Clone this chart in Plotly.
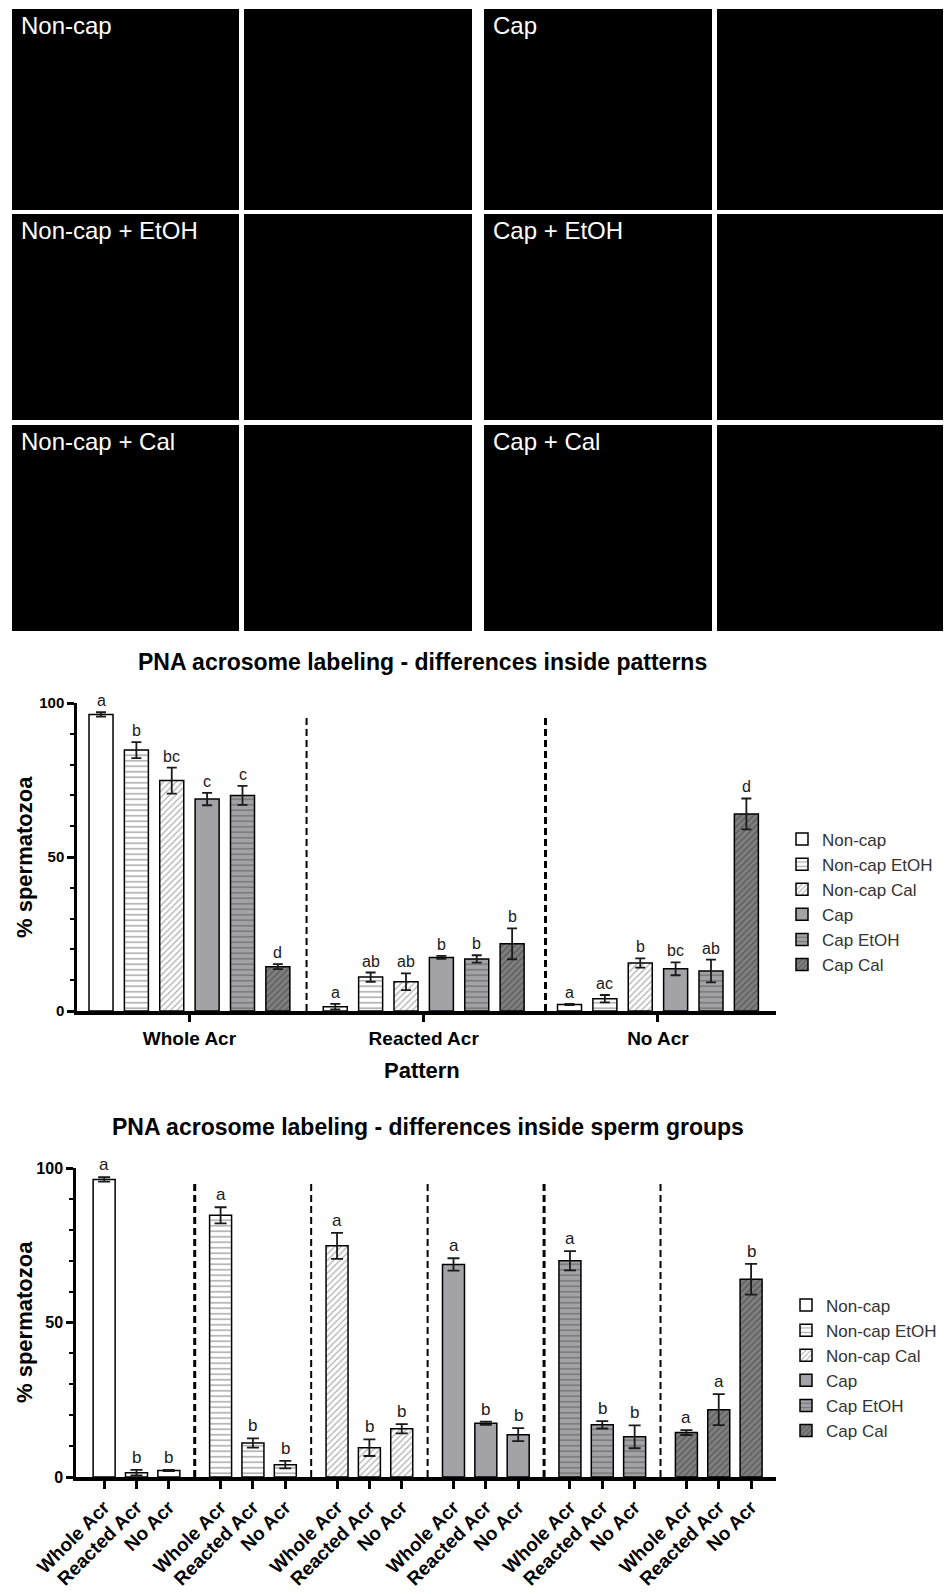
import plotly.graph_objects as go

W, H = 952, 1594

groups = ["Non-cap", "Non-cap EtOH", "Non-cap Cal", "Cap", "Cap EtOH", "Cap Cal"]
panel_labels = ["Non-cap", "Non-cap + EtOH", "Non-cap + Cal", "Cap", "Cap + EtOH", "Cap + Cal"]
patterns = ["Whole Acr", "Reacted Acr", "No Acr"]

# % spermatozoa per group, in pattern order (Whole, Reacted, No)
non_cap = [96.3, 1.4, 2.1]
non_cap_etoh = [84.7, 11.0, 4.0]
non_cap_cal = [74.8, 9.5, 15.6]
cap = [68.8, 17.4, 13.7]
cap_etoh = [70.0, 16.9, 13.0]
cap_cal = [14.4, 21.8, 64.0]

# error (SEM)
non_cap_err = [0.7, 0.9, 0.2]
non_cap_etoh_err = [2.6, 1.5, 1.2]
non_cap_cal_err = [4.2, 2.7, 1.5]
cap_err = [2.0, 0.5, 2.1]
cap_etoh_err = [3.1, 1.2, 3.7]
cap_cal_err = [0.8, 5.0, 5.0]

# significance letters, top chart (differences inside patterns)
letters_pat_non_cap = ["a", "a", "a"]
letters_pat_non_cap_etoh = ["b", "ab", "ac"]
letters_pat_non_cap_cal = ["bc", "ab", "b"]
letters_pat_cap = ["c", "b", "bc"]
letters_pat_cap_etoh = ["c", "b", "ab"]
letters_pat_cap_cal = ["d", "b", "d"]

# significance letters, bottom chart (differences inside sperm groups)
letters_grp_non_cap = ["a", "b", "b"]
letters_grp_non_cap_etoh = ["a", "b", "b"]
letters_grp_non_cap_cal = ["a", "b", "b"]
letters_grp_cap = ["a", "b", "b"]
letters_grp_cap_etoh = ["a", "b", "b"]
letters_grp_cap_cal = ["a", "a", "b"]

means = [non_cap, non_cap_etoh, non_cap_cal, cap, cap_etoh, cap_cal]
errs = [non_cap_err, non_cap_etoh_err, non_cap_cal_err, cap_err, cap_etoh_err, cap_cal_err]
let_pat = [letters_pat_non_cap, letters_pat_non_cap_etoh, letters_pat_non_cap_cal,
           letters_pat_cap, letters_pat_cap_etoh, letters_pat_cap_cal]
let_grp = [letters_grp_non_cap, letters_grp_non_cap_etoh, letters_grp_non_cap_cal,
           letters_grp_cap, letters_grp_cap_etoh, letters_grp_cap_cal]

GRAY = "#a3a3a7"
DARK = "#808080"
styles = [
    dict(color="white", pattern=dict(shape="")),
    dict(color="white", pattern=dict(shape="-", fgcolor="#555555", size=5.5, solidity=0.28)),
    dict(color="white", pattern=dict(shape="/", fgcolor="#666666", size=4.5, solidity=0.3)),
    dict(color=GRAY, pattern=dict(shape="")),
    dict(color=GRAY, pattern=dict(shape="-", fgcolor="#4a4a4a", size=5.5, solidity=0.28)),
    dict(color=DARK, pattern=dict(shape="/", fgcolor="#3e3e3e", size=4.5, solidity=0.35)),
]

# the page body has an 8px margin, so page pixels are shifted by it
OFF = 8


def px_x(p):
    return (p - OFF) / W


def px_y(p):
    return 1 - (p - OFF) / H


FONT = "Liberation Sans, Arial, sans-serif"
fig = go.Figure()
annotations = []
shapes = []

# ---- micrograph panels (black frames with labels) ----
cols = [(12, 239), (244, 472), (484, 712), (717, 943)]
rows = [(9, 210), (214, 420), (425, 631)]
for side in range(2):
    for r in range(3):
        for c in range(2):
            x0, x1 = cols[side * 2 + c]
            y0, y1 = rows[r]
            shapes.append(dict(type="rect", xref="paper", yref="paper",
                               x0=px_x(x0), x1=px_x(x1), y0=px_y(y1), y1=px_y(y0),
                               fillcolor="black", line=dict(width=0), layer="below"))
        annotations.append(dict(xref="paper", yref="paper", x=px_x(cols[side * 2][0] + 7),
                                y=px_y(rows[r][0] + 1), xanchor="left", yanchor="top",
                                text=panel_labels[side * 3 + r], showarrow=False,
                                font=dict(family=FONT, size=24, color="white")))

# ---- top chart: differences inside patterns ----
slot = 0.151
bw1 = 0.1025
for g, name in enumerate(groups):
    xs = [p + (g - 2.5) * slot for p in range(3)]
    fig.add_trace(go.Bar(
        x=xs, y=means[g], width=bw1, name=name, legend="legend",
        marker=dict(color=styles[g]["color"], pattern=styles[g]["pattern"],
                    line=dict(color="black", width=1.5)),
        error_y=dict(type="data", array=errs[g], color="#1a1a1a", thickness=1.8, width=5),
        xaxis="x", yaxis="y"))
    for p in range(3):
        annotations.append(dict(x=xs[p], y=means[g][p] + errs[g][p], xref="x", yref="y",
                                text=let_pat[g][p], showarrow=False, yanchor="bottom", yshift=1,
                                font=dict(family=FONT, size=16, color="#1a1a1a")))

for xv, lw in [(0.5, 2), (1.52, 3)]:
    shapes.append(dict(type="line", xref="x", yref="y", x0=xv, x1=xv, y0=0, y1=96,
                       line=dict(color="black", width=lw, dash="7px,4px")))

# ---- bottom chart: differences inside sperm groups ----
gstep = 3.6
bw2 = 0.68
tick2 = []
for g, name in enumerate(groups):
    xs = [g * gstep + p for p in range(3)]
    tick2 += xs
    fig.add_trace(go.Bar(
        x=xs, y=means[g], width=bw2, name=name, legend="legend2",
        marker=dict(color=styles[g]["color"], pattern=styles[g]["pattern"],
                    line=dict(color="black", width=1.5)),
        error_y=dict(type="data", array=errs[g], color="#1a1a1a", thickness=1.8, width=6),
        xaxis="x2", yaxis="y2"))
    for p in range(3):
        annotations.append(dict(x=xs[p], y=means[g][p] + errs[g][p], xref="x2", yref="y2",
                                text=let_grp[g][p], showarrow=False, yanchor="bottom", yshift=1,
                                font=dict(family=FONT, size=17, color="#1a1a1a")))

for g, lw in zip(range(5), [3, 2, 2, 3, 2]):
    xv = g * gstep + 2.8
    shapes.append(dict(type="line", xref="x2", yref="y2", x0=xv, x1=xv, y0=0, y1=96,
                       line=dict(color="black", width=lw, dash="7px,4px")))

# titles and axis labels
bold = dict(family=FONT, color="black", weight="bold")
for txt, xp, yp, size, ang in [
    ("PNA acrosome labeling - differences inside patterns", 422, 662, 23, 0),
    ("PNA acrosome labeling - differences inside sperm groups", 428, 1127, 23, 0),
    ("% spermatozoa", 24, 857, 22, -90),
    ("% spermatozoa", 24, 1322, 22, -90),
    ("Pattern", 422, 1070, 22, 0),
]:
    annotations.append(dict(xref="paper", yref="paper", x=px_x(xp), y=px_y(yp), text=txt,
                            xanchor="center", yanchor="middle", textangle=ang, showarrow=False,
                            font=dict(size=size, **bold)))

yax = dict(range=[0, 100], tickvals=[0, 50, 100], ticks="outside", ticklen=7, tickwidth=2.5,
           tickcolor="black", showline=True, linecolor="black", linewidth=2.5,
           showgrid=False, zeroline=False, automargin=False,
           minor=dict(dtick=10, tick0=0, ticks="outside", ticklen=4, tickwidth=1.5, tickcolor="black"))

fig.update_layout(
    width=W, height=H,
    margin=dict(l=0, r=0, t=0, b=0, pad=0, autoexpand=False),
    paper_bgcolor="white", plot_bgcolor="rgba(0,0,0,0)",
    barmode="overlay",
    showlegend=True,
    xaxis=dict(domain=[px_x(77), px_x(776)], anchor="y", range=[-0.48, 2.504],
               tickvals=[0, 1, 2], ticktext=patterns, ticks="outside", ticklen=7, tickwidth=2.5,
               tickcolor="black", showline=True, linecolor="black", linewidth=3.5,
               showgrid=False, zeroline=False, automargin=False,
               tickfont=dict(family=FONT, size=19, color="black", weight="bold")),
    yaxis=dict(domain=[px_y(1011), px_y(703)], anchor="x",
               tickfont=dict(family=FONT, size=15, color="black", weight="bold"), **yax),
    xaxis2=dict(domain=[px_x(76), px_x(776)], anchor="y2", range=[-0.87, 20.77],
                tickvals=tick2, ticktext=patterns * 6, tickangle=-45, ticks="outside", ticklen=8,
                tickwidth=2.5, tickcolor="black", showline=True, linecolor="black", linewidth=3.5,
                showgrid=False, zeroline=False, automargin=False,
                tickfont=dict(family=FONT, size=19, color="black", weight="bold")),
    yaxis2=dict(domain=[px_y(1477), px_y(1168)], anchor="x2",
                tickfont=dict(family=FONT, size=16, color="black", weight="bold"), **yax),
    legend=dict(x=px_x(782), y=px_y(902), xanchor="left", yanchor="middle",
                bgcolor="rgba(0,0,0,0)", font=dict(family=FONT, size=17, color="#333333")),
    legend2=dict(x=px_x(786), y=px_y(1368), xanchor="left", yanchor="middle",
                 bgcolor="rgba(0,0,0,0)", font=dict(family=FONT, size=17, color="#333333")),
    annotations=annotations,
    shapes=shapes,
)

fig.write_html("out.html")
